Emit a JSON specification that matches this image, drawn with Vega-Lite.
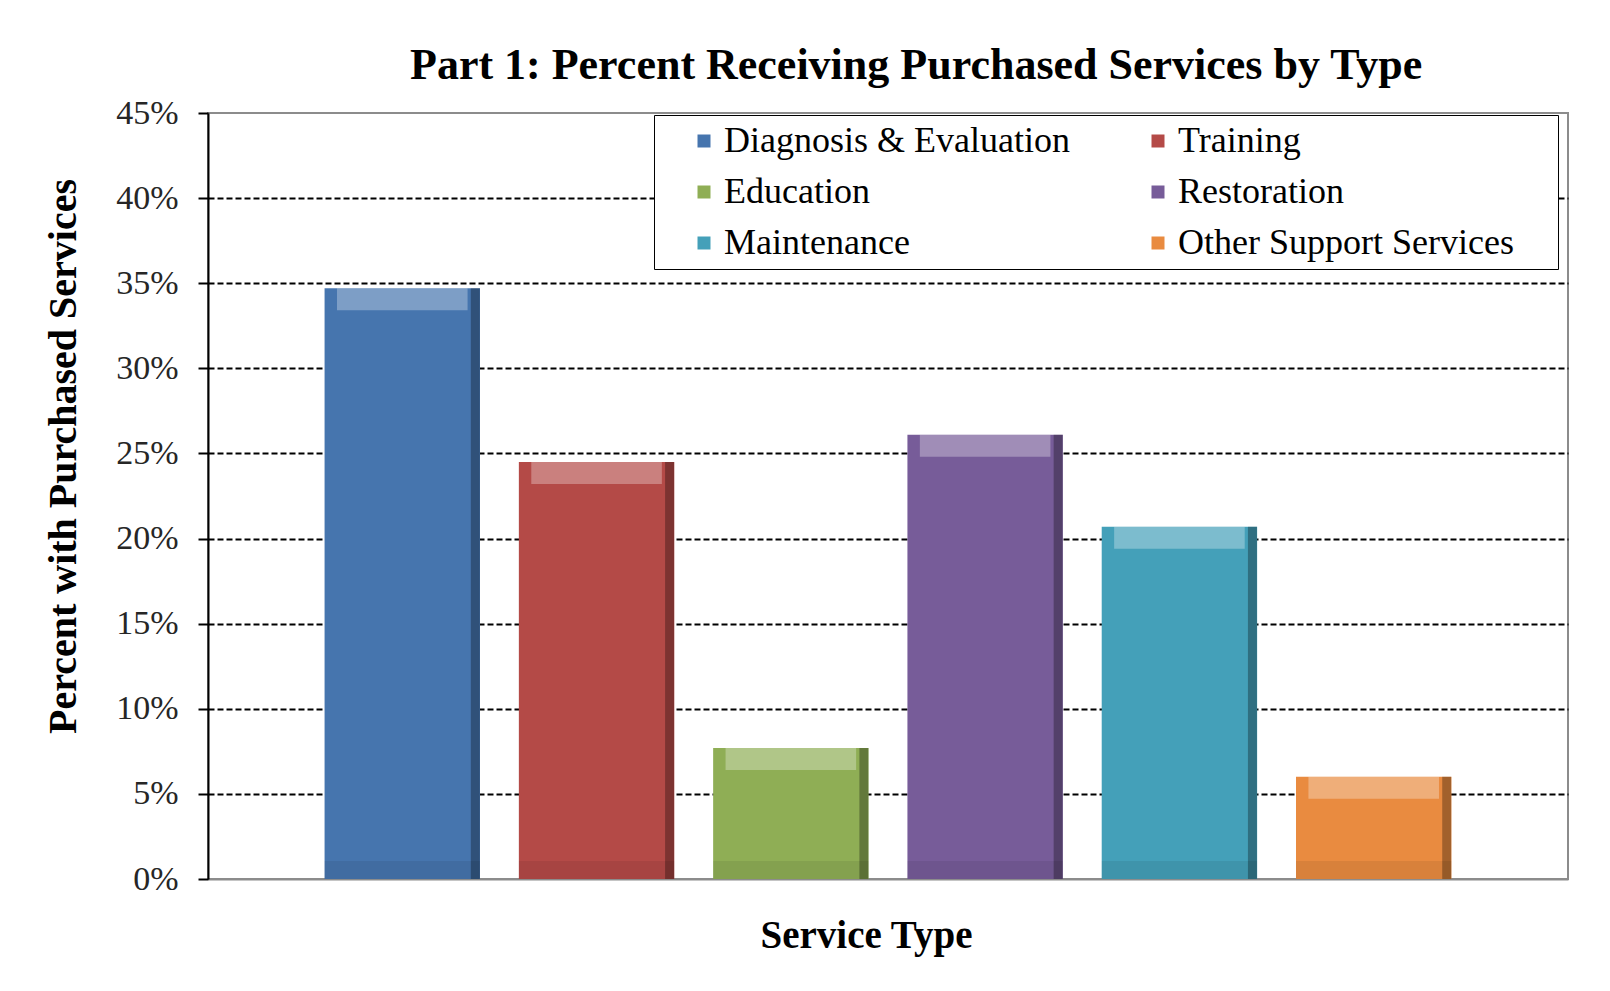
{
  "$schema": "https://vega.github.io/schema/vega-lite/v6.json",
  "width": 1360,
  "height": 766,
  "autosize": {"type": "none"},
  "padding": {"left": 208, "top": 113, "right": 42, "bottom": 112},
  "background": "white",
  "config": {
    "view": {"stroke": "#8c8c8c", "strokeWidth": 2},
    "font": "Liberation Serif"
  },
  "title": {
    "text": "Part 1:  Percent Receiving Purchased Services by Type",
    "anchor": "start",
    "frame": "group",
    "dx": 202,
    "offset": -27,
    "baseline": "alphabetic",
    "font": "Liberation Serif",
    "fontSize": 44,
    "fontWeight": "bold",
    "color": "black"
  },
  "data": {
    "values": [
      {"type": "Diagnosis & Evaluation", "value": 0.347},
      {"type": "Training", "value": 0.245},
      {"type": "Education", "value": 0.077},
      {"type": "Restoration", "value": 0.261},
      {"type": "Maintenance", "value": 0.207},
      {"type": "Other Support Services", "value": 0.060}
    ]
  },
  "encoding": {
    "x": {
      "field": "type",
      "type": "nominal",
      "sort": null,
      "scale": {"paddingInner": 0.2, "paddingOuter": 0.6},
      "axis": {
        "title": "Service Type",
        "labels": false,
        "ticks": false,
        "grid": false,
        "domainColor": "#8c8c8c",
        "domainWidth": 2,
        "titleFont": "Liberation Serif",
        "titleFontSize": 39,
        "titleFontWeight": "bold",
        "titleColor": "black",
        "titleX": 658,
        "titleY": 68,
        "titleAlign": "center",
        "titleBaseline": "alphabetic"
      }
    },
    "y": {
      "field": "value",
      "type": "quantitative",
      "scale": {"domain": [0, 0.45]},
      "axis": {
        "title": "Percent with Purchased Services",
        "values": [0, 0.05, 0.1, 0.15, 0.2, 0.25, 0.3, 0.35, 0.4, 0.45],
        "format": ".0%",
        "labelFont": "Liberation Serif",
        "labelFontSize": 34,
        "labelColor": "#262626",
        "labelPadding": 20,
        "tickSize": 10,
        "tickColor": "black",
        "tickWidth": 2,
        "domainColor": "black",
        "domainWidth": 2,
        "grid": true,
        "gridColor": "black",
        "gridDash": [6, 3],
        "gridWidth": 2,
        "gridOpacity": {"condition": {"test": "datum.value <= 0 || datum.value >= 0.45", "value": 0}, "value": 1},
        "titleFont": "Liberation Serif",
        "titleFontSize": 40,
        "titleFontWeight": "bold",
        "titleColor": "black",
        "titleAngle": 270,
        "titleAlign": "center",
        "titleBaseline": "alphabetic",
        "titleX": -133,
        "titleY": 343
      }
    }
  },
  "layer": [
    {
      "mark": {"type": "bar"},
      "encoding": {
        "color": {
          "field": "type",
          "type": "nominal",
          "sort": null,
          "scale": {
            "domain": ["Diagnosis & Evaluation", "Education", "Maintenance", "Training", "Restoration", "Other Support Services"],
            "range": ["#4675ae", "#8fae55", "#44a0b9", "#b44a47", "#775c99", "#e98b40"]
          },
          "legend": {
            "orient": "none",
            "legendX": 446,
            "legendY": 2,
            "columns": 2,
            "title": " ",
            "titleOrient": "right",
            "titlePadding": 36,
            "titleFontSize": 2,
            "symbolType": "square",
            "symbolSize": 169,
            "symbolStrokeWidth": 0,
            "labelFont": "Liberation Serif",
            "labelFontSize": 36,
            "labelColor": "black",
            "labelLimit": 700,
            "labelOffset": 2,
            "symbolOffset": 24,
            "padding": 8,
            "rowPadding": 15,
            "columnPadding": 46,
            "strokeColor": "black",
            "fillColor": "white"
          }
        }
      }
    },
    {
      "mark": {"type": "bar", "color": "white", "opacity": 0.3, "y2Offset": 22, "width": {"band": 0.84}},
      "encoding": {"y2": {"field": "value"}}
    },
    {
      "mark": {"type": "bar", "color": "black", "opacity": 0.3, "width": 9, "xOffset": 73},
      "encoding": {}
    },
    {
      "mark": {"type": "bar", "color": "black", "opacity": 0.07, "yOffset": -18},
      "encoding": {"y": {"datum": 0}, "y2": {"datum": 0}}
    }
  ]
}
